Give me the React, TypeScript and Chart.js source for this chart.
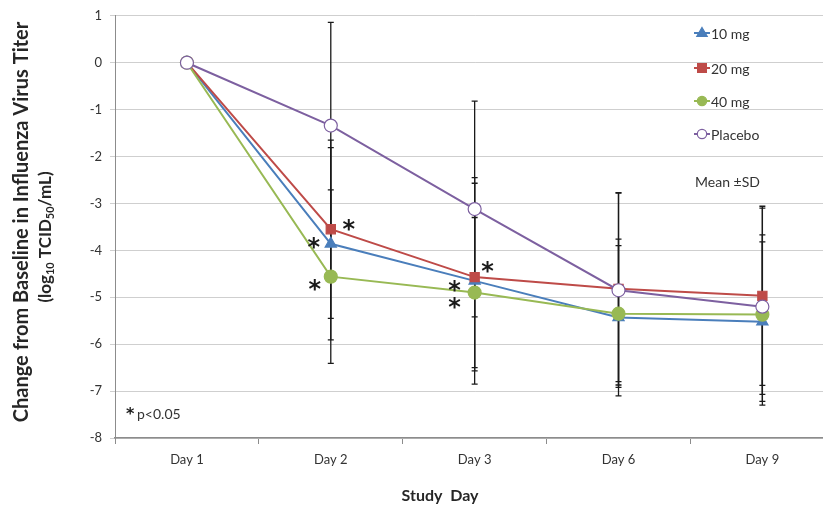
import React, { useEffect, useRef } from 'react';
import { Chart, registerables } from 'chart.js';
Chart.register(...registerables);

const days = ['Day 1', 'Day 2', 'Day 3', 'Day 6', 'Day 9'];
const mg10 = [0, -3.86, -4.65, -5.43, -5.52];
const mg20 = [0, -3.55, -4.57, -4.82, -4.97];
const mg40 = [0, -4.56, -4.9, -5.35, -5.37];
const placebo = [0, -1.34, -3.12, -4.85, -5.2];
const sd10 = [0, 2.05, 2.2, 1.67, 1.7];
const sd20 = [0, 1.9, 2.0, 2.05, 1.91];
const sd40 = [0, 1.85, 1.6, 1.45, 1.7];
const sdPlacebo = [0, 2.2, 2.3, 2.07, 2.1];
const seriesNames = ['10 mg', '20 mg', '40 mg', 'Placebo'];
// significant points: [series index, day index]
const sigPoints = [[1, 1], [0, 1], [2, 1], [1, 2], [0, 2], [2, 2]];

const COLORS = ['#4a7ebb', '#be4b48', '#98b954', '#7d60a0'];
const STYLES = ['triangle', 'rect', 'circle', 'circle'];
const FONT = 'Lato, "Open Sans", sans-serif';

function drawMarker(ctx: CanvasRenderingContext2D, style: string, x: number, y: number, r: number, color: string, hollow: boolean) {
  ctx.save();
  ctx.fillStyle = hollow ? '#ffffff' : color;
  ctx.strokeStyle = color;
  ctx.lineWidth = 1.2;
  ctx.beginPath();
  if (style === 'triangle') {
    ctx.moveTo(x, y - r);
    ctx.lineTo(x + r * 0.95, y + r * 0.6);
    ctx.lineTo(x - r * 0.95, y + r * 0.6);
    ctx.closePath();
  } else if (style === 'rect') {
    ctx.rect(x - r * 0.8, y - r * 0.8, r * 1.6, r * 1.6);
  } else {
    ctx.arc(x, y, r * 0.85, 0, Math.PI * 2);
  }
  ctx.fill();
  ctx.stroke();
  ctx.restore();
}

const overlayPlugin = {
  id: 'overlay',
  beforeDatasetsDraw(chart: any) {
    const ctx = chart.ctx as CanvasRenderingContext2D;
    const y = chart.scales.y;
    const sds = [sd10, sd20, sd40, sdPlacebo];
    const vals = [mg10, mg20, mg40, placebo];
    ctx.save();
    ctx.strokeStyle = '#1a1a1a';
    ctx.lineWidth = 1.3;
    for (let i = 0; i < 4; i++) {
      const meta = chart.getDatasetMeta(i);
      for (let j = 0; j < days.length; j++) {
        const sd = sds[i][j];
        if (!sd) continue;
        const x = meta.data[j].x;
        const yt = y.getPixelForValue(vals[i][j] + sd);
        const yb = y.getPixelForValue(vals[i][j] - sd);
        ctx.beginPath();
        ctx.moveTo(x, yt);
        ctx.lineTo(x, yb);
        ctx.moveTo(x - 3, yt);
        ctx.lineTo(x + 3, yt);
        ctx.moveTo(x - 3, yb);
        ctx.lineTo(x + 3, yb);
        ctx.stroke();
      }
    }
    ctx.restore();
  },
  afterDraw(chart: any) {
    const ctx = chart.ctx as CanvasRenderingContext2D;
    const area = chart.chartArea;
    ctx.save();
    // Y axis title
    ctx.fillStyle = '#262626';
    ctx.textAlign = 'center';
    ctx.textBaseline = 'middle';
    ctx.save();
    ctx.translate(22, 222);
    ctx.rotate(-Math.PI / 2);
    ctx.font = `bold 20px ${FONT}`;
    ctx.fillText('Change from Baseline in Influenza Virus Titer', 0, 0);
    ctx.restore();
    ctx.save();
    ctx.translate(46, 237);
    ctx.rotate(-Math.PI / 2);
    const parts: [string, boolean][] = [['(log', false], ['10', true], [' TCID', false], ['50', true], ['/mL)', false]];
    const big = `bold 17px ${FONT}`;
    const small = `bold 11px ${FONT}`;
    let total = 0;
    for (const [t, sub] of parts) {
      ctx.font = sub ? small : big;
      total += ctx.measureText(t).width;
    }
    let cx = -total / 2;
    ctx.textAlign = 'left';
    for (const [t, sub] of parts) {
      ctx.font = sub ? small : big;
      ctx.fillText(t, cx, sub ? 4 : 0);
      cx += ctx.measureText(t).width;
    }
    ctx.restore();

    // X axis title
    ctx.textAlign = 'center';
    ctx.font = `bold 16px ${FONT}`;
    ctx.fillText('Study  Day', 440, 496);

    // asterisks
    const offsets = [[18, -6], [-17, -3], [-16, 6], [13, -12], [-20, 3], [-20, 8]];
    ctx.font = `bold 24px "DejaVu Sans", sans-serif`;
    ctx.fillStyle = '#1a1a1a';
    sigPoints.forEach(([s, d], k) => {
      const p = chart.getDatasetMeta(s).data[d];
      ctx.fillText('*', p.x + offsets[k][0], p.y + offsets[k][1] + 8);
    });

    // footnote
    ctx.textAlign = 'left';
    ctx.font = `bold 16px "DejaVu Sans", sans-serif`;
    ctx.fillText('*', area.left + 11, 415);
    ctx.font = `14px ${FONT}`;
    ctx.fillStyle = '#333';
    ctx.fillText('p<0.05', area.left + 22, 414);

    // legend
    const lx = 694;
    const rows = [33, 68, 101, 134];
    ctx.font = `14px ${FONT}`;
    for (let i = 0; i < 4; i++) {
      const yy = rows[i];
      ctx.strokeStyle = COLORS[i];
      ctx.lineWidth = 2;
      ctx.beginPath();
      ctx.moveTo(lx, yy);
      ctx.lineTo(lx + 16, yy);
      ctx.stroke();
      drawMarker(ctx, STYLES[i], lx + 8, yy, 5.5, COLORS[i], i === 3);
      ctx.fillStyle = '#333';
      ctx.fillText(seriesNames[i], lx + 17, yy + 1);
    }
    ctx.fillText('Mean \u00b1SD', 695, 182);
    ctx.restore();
  },
};

export default function App() {
  const ref = useRef<HTMLCanvasElement>(null);
  useEffect(() => {
    if (!ref.current) return;
    const vals = [mg10, mg20, mg40, placebo];
    const chart = new Chart(ref.current, {
      type: 'line',
      data: {
        labels: days,
        datasets: vals.map((v, i) => ({
          label: seriesNames[i],
          data: v,
          borderColor: COLORS[i],
          backgroundColor: i === 3 ? '#ffffff' : COLORS[i],
          pointBorderColor: COLORS[i],
          pointBackgroundColor: i === 3 ? '#ffffff' : COLORS[i],
          pointStyle: STYLES[i] as any,
          pointRadius: 6.5,
          pointBorderWidth: 1.2,
          borderWidth: 2,
          tension: 0,
          order: 4 - i,
        })),
      },
      options: {
        responsive: false,
        animation: false,
        layout: { padding: { top: 14, left: 0, right: 0, bottom: 0 } },
        plugins: { legend: { display: false }, tooltip: { enabled: false } },
        scales: {
          x: {
            type: 'category',
            offset: true,
            grid: { display: true, drawOnChartArea: false, drawTicks: true, tickLength: 6, color: '#8c8c8c', offset: true },
            border: { display: true, color: '#8c8c8c', width: 1.5 },
            ticks: { color: '#333', font: { family: FONT, size: 13 }, padding: 8 },
            afterFit: (s: any) => { s.height = 73; },
          },
          y: {
            min: -8,
            max: 1,
            ticks: { stepSize: 1, color: '#333', font: { family: FONT, size: 13 }, padding: 8 },
            grid: { color: '#cfcfcf', lineWidth: 1, tickLength: 5 },
            border: { display: true, color: '#8c8c8c', width: 1 },
            afterFit: (s: any) => { s.width = 115; },
          },
        },
      },
      plugins: [overlayPlugin],
    });
    return () => chart.destroy();
  }, []);
  return (
    <div style={{ position: 'fixed', left: 0, top: 0, width: 823, height: 511, overflow: 'hidden', background: '#fff' }}>
      <canvas ref={ref} width={842} height={511} />
    </div>
  );
}
